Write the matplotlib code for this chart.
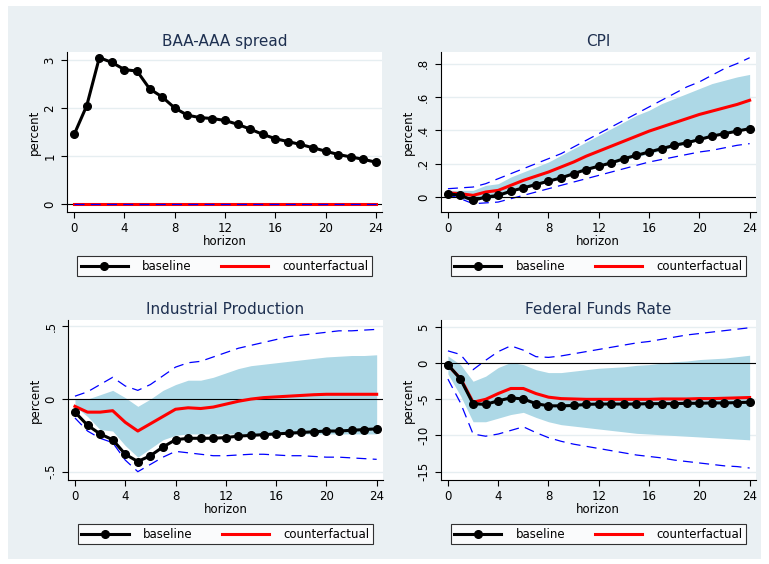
import numpy as np
import matplotlib
matplotlib.use("Agg")
import matplotlib.pyplot as plt
from matplotlib.ticker import FuncFormatter

H = np.arange(25)

# BAA-AAA spread
baa_base = [1.45, 2.05, 3.05, 2.95, 2.8, 2.77, 2.4, 2.23, 2.0, 1.85, 1.8, 1.78, 1.74,
            1.66, 1.56, 1.45, 1.36, 1.3, 1.24, 1.17, 1.1, 1.03, 0.98, 0.93, 0.87]
baa_cf = [0.0] * 25
baa_lo = [0.0] * 25
baa_hi = [0.0] * 25
baa_dlo = [0.0] * 25
baa_dhi = [0.0] * 25

# CPI
cpi_base = [0.02, 0.01, -0.02, 0.0, 0.01, 0.035, 0.055, 0.075, 0.095, 0.115, 0.14, 0.165, 0.185,
            0.205, 0.23, 0.25, 0.27, 0.29, 0.31, 0.325, 0.345, 0.365, 0.38, 0.395, 0.41]
cpi_cf = [0.025, 0.02, 0.01, 0.03, 0.04, 0.07, 0.1, 0.125, 0.15, 0.18, 0.21, 0.245, 0.275,
          0.305, 0.335, 0.365, 0.395, 0.42, 0.445, 0.47, 0.495, 0.515, 0.535, 0.555, 0.58]
cpi_lo = [0.01, -0.01, -0.02, -0.01, 0.0, 0.03, 0.05, 0.07, 0.09, 0.11, 0.135, 0.16, 0.18,
          0.2, 0.22, 0.24, 0.26, 0.28, 0.3, 0.32, 0.34, 0.36, 0.38, 0.395, 0.41]
cpi_hi = [0.04, 0.04, 0.04, 0.07, 0.08, 0.12, 0.15, 0.18, 0.21, 0.25, 0.29, 0.33, 0.37,
          0.41, 0.45, 0.49, 0.52, 0.56, 0.59, 0.62, 0.65, 0.68, 0.70, 0.72, 0.735]
cpi_dlo = [0.015, -0.01, -0.04, -0.035, -0.03, -0.01, 0.01, 0.03, 0.05, 0.07, 0.09, 0.11, 0.13,
           0.15, 0.17, 0.19, 0.21, 0.225, 0.24, 0.255, 0.27, 0.28, 0.295, 0.31, 0.32]
cpi_dhi = [0.05, 0.055, 0.06, 0.08, 0.11, 0.14, 0.17, 0.2, 0.23, 0.26, 0.3, 0.34, 0.38,
           0.42, 0.46, 0.5, 0.54, 0.58, 0.62, 0.66, 0.69, 0.73, 0.77, 0.80, 0.835]

# Industrial Production
ip_base = [-0.09, -0.18, -0.24, -0.28, -0.38, -0.43, -0.39, -0.33, -0.28, -0.27, -0.27, -0.27, -0.265,
           -0.255, -0.25, -0.245, -0.24, -0.235, -0.23, -0.225, -0.22, -0.22, -0.215, -0.21, -0.205]
ip_cf = [-0.05, -0.09, -0.09, -0.08, -0.16, -0.22, -0.17, -0.12, -0.07, -0.06, -0.065, -0.055, -0.035,
         -0.015, 0.0, 0.01, 0.015, 0.02, 0.025, 0.03, 0.033, 0.033, 0.033, 0.033, 0.033]
ip_lo = [-0.05, -0.12, -0.21, -0.22, -0.32, -0.40, -0.34, -0.28, -0.25, -0.24, -0.24, -0.24, -0.24,
         -0.24, -0.24, -0.24, -0.24, -0.24, -0.24, -0.24, -0.24, -0.24, -0.24, -0.24, -0.24]
ip_hi = [0.0, 0.0, 0.03, 0.06, 0.01, -0.05, 0.0, 0.06, 0.1, 0.13, 0.13, 0.15, 0.18,
         0.21, 0.23, 0.24, 0.25, 0.26, 0.27, 0.28, 0.29, 0.295, 0.3, 0.3, 0.305]
ip_dlo = [-0.13, -0.22, -0.27, -0.3, -0.42, -0.5, -0.45, -0.4, -0.36, -0.37, -0.38, -0.39, -0.39,
          -0.385, -0.38, -0.38, -0.385, -0.39, -0.39, -0.395, -0.4, -0.4, -0.405, -0.41, -0.415]
ip_dhi = [0.02, 0.05, 0.1, 0.15, 0.09, 0.06, 0.1, 0.16, 0.22, 0.25, 0.26, 0.29, 0.32,
          0.35, 0.37, 0.39, 0.41, 0.43, 0.44, 0.45, 0.46, 0.47, 0.47, 0.475, 0.48]

# Federal Funds Rate
ffr_base = [-0.2, -2.2, -5.6, -5.7, -5.2, -4.8, -4.95, -5.6, -5.9, -5.9, -5.85, -5.7, -5.65,
            -5.65, -5.65, -5.65, -5.6, -5.6, -5.6, -5.55, -5.55, -5.5, -5.5, -5.45, -5.4]
ffr_cf = [-0.3, -2.1, -5.4, -5.0, -4.2, -3.5, -3.5, -4.2, -4.7, -4.9, -4.95, -5.0, -5.0,
          -5.0, -5.0, -5.0, -5.0, -4.95, -4.95, -4.95, -4.9, -4.9, -4.85, -4.8, -4.75]
ffr_lo = [-1.5, -4.5, -8.1, -8.1, -7.6, -7.1, -6.8, -7.5, -8.1, -8.5, -8.7, -8.9, -9.1,
          -9.3, -9.5, -9.7, -9.8, -9.9, -10.0, -10.1, -10.2, -10.3, -10.4, -10.5, -10.6]
ffr_hi = [1.0, -0.2, -2.5, -1.8, -0.6, 0.1, -0.2, -0.9, -1.3, -1.3, -1.1, -0.9, -0.7,
          -0.6, -0.5, -0.3, -0.2, 0.0, 0.2, 0.3, 0.5, 0.6, 0.7, 0.9, 1.1]
ffr_dlo = [-2.2, -5.5, -9.8, -10.1, -9.8, -9.3, -8.8, -9.6, -10.3, -10.8, -11.2, -11.5, -11.8,
           -12.1, -12.4, -12.7, -12.9, -13.1, -13.4, -13.6, -13.8, -14.0, -14.2, -14.3, -14.5]
ffr_dhi = [1.7, 1.2, -0.9, 0.4, 1.6, 2.4, 1.8, 0.9, 0.8, 1.0, 1.3, 1.6, 1.9,
           2.2, 2.5, 2.8, 3.0, 3.3, 3.6, 3.9, 4.1, 4.3, 4.5, 4.7, 4.9]

panels = [
    ("BAA-AAA spread", baa_base, baa_cf, baa_lo, baa_hi, baa_dlo, baa_dhi, [0, 1, 2, 3], (-0.17, 3.17)),
    ("CPI", cpi_base, cpi_cf, cpi_lo, cpi_hi, cpi_dlo, cpi_dhi, [0, 0.2, 0.4, 0.6, 0.8], (-0.09, 0.87)),
    ("Industrial Production", ip_base, ip_cf, ip_lo, ip_hi, ip_dlo, ip_dhi, [-0.5, 0, 0.5], (-0.557, 0.546)),
    ("Federal Funds Rate", ffr_base, ffr_cf, ffr_lo, ffr_hi, ffr_dlo, ffr_dhi, [-15, -10, -5, 0, 5], (-16.15, 6.0)),
]
positions = [(0.087, 0.624), (0.573, 0.624), (0.088, 0.149), (0.573, 0.149)]


def stata_fmt(v, _):
    s = "%g" % v
    if s.startswith("0."):
        s = s[1:]
    elif s.startswith("-0."):
        s = "-" + s[2:]
    return s


fig = plt.figure(figsize=(7.69, 5.64), dpi=100, facecolor="white")
fig.patches.append(plt.Rectangle((0.01, 0.008), 0.98, 0.982, transform=fig.transFigure,
                                 facecolor="#eaf0f3", edgecolor="none", zorder=-10))

for (title, base, cf, lo, hi, dlo, dhi, yt, yl), (x0, y0) in zip(panels, positions):
    ax = fig.add_axes([x0, y0, 0.41, 0.284])
    ax.set_facecolor("white")
    for y in yt:
        ax.axhline(y, color="#e6eef1", lw=1, zorder=0)
    ax.fill_between(H, lo, hi, color="#add8e6", lw=0, zorder=1)
    ax.plot(H, dhi, color="blue", ls=(0, (8, 5)), lw=0.9, zorder=2)
    ax.plot(H, dlo, color="blue", ls=(0, (8, 5)), lw=0.9, zorder=2)
    ax.axhline(0, color="black", lw=0.8, zorder=2)
    l1, = ax.plot(H, base, color="black", lw=2.2, marker="o", ms=5.5, zorder=4, label="baseline")
    l2, = ax.plot(H, cf, color="red", lw=2.2, zorder=3, label="counterfactual")
    if title == "BAA-AAA spread":
        ax.plot(H, dlo, color="blue", ls=(0, (8, 5)), lw=0.9, zorder=4)
    ax.set_xlim(-0.58, 24.5)
    ax.set_ylim(*yl)
    ax.set_xticks(range(0, 25, 4))
    ax.set_yticks(yt)
    ax.yaxis.set_major_formatter(FuncFormatter(stata_fmt))
    for lab in ax.get_yticklabels():
        lab.set_rotation(90)
        lab.set_va("center")
    ax.tick_params(labelsize=8.5, length=4, width=0.8)
    ax.spines["top"].set_visible(False)
    ax.spines["right"].set_visible(False)
    ax.set_title(title, fontsize=11, color="#1e3050", pad=4)
    ax.set_xlabel("horizon", fontsize=8.5, labelpad=0)
    ax.set_ylabel("percent", fontsize=8.5, labelpad=2)
    leg = ax.legend(handles=[l1, l2], loc="upper center", bbox_to_anchor=(0.5, -0.24), ncol=2,
                    fontsize=8.5, frameon=True, fancybox=False, edgecolor="black",
                    handlelength=4, columnspacing=2.5, handletextpad=1.2, borderpad=0.3)
    leg.get_frame().set_linewidth(0.8)

fig.savefig("out.png", dpi=100, facecolor=fig.get_facecolor())
